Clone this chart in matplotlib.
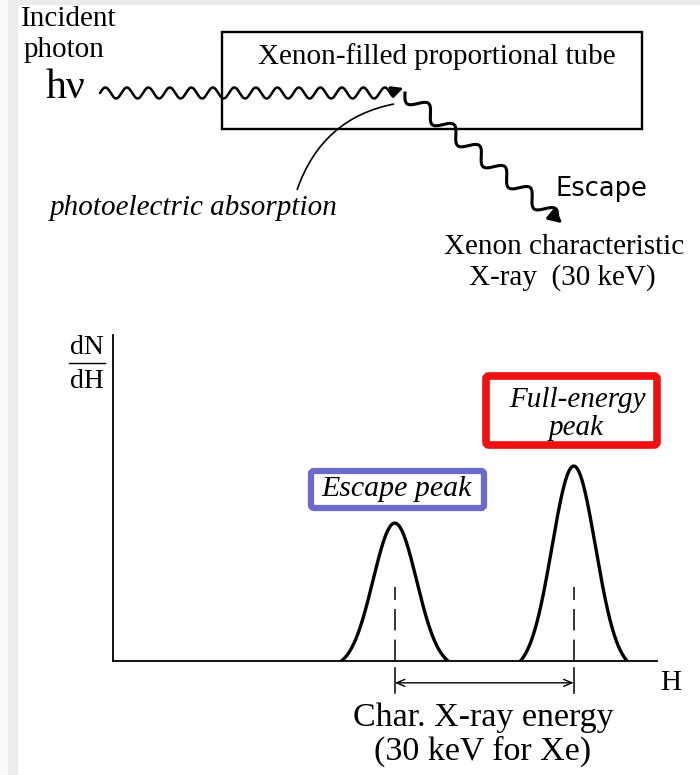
import numpy as np
import matplotlib
matplotlib.use("Agg")
import matplotlib.pyplot as plt
from matplotlib.patches import Rectangle, FancyBboxPatch, PathPatch
from matplotlib.path import Path

# ---- data (lower panel: pulse-height spectrum) ----
peak_names = ["Escape peak", "Full-energy peak"]
peak_centers = [51.8, 84.7]      # H (arbitrary units, axis 0..100)
peak_heights = [0.423, 0.598]    # dN/dH (axis 0..1)
peak_widths = [4.0, 4.0]         # sigma in H units
peak_extent = 2.45               # curve drawn out to +/- extent*sigma

SERIF = ["Liberation Serif", "DejaVu Serif"]
SANS = ["DejaVu Sans"]

W, H = 700, 775
fig = plt.figure(figsize=(W / 100, H / 100), dpi=100)
fig.patch.set_facecolor("white")

# overlay axes in pixel coordinates
ov = fig.add_axes([0, 0, 1, 1])
ov.set_xlim(0, W)
ov.set_ylim(H, 0)
ov.axis("off")

# page frame strips
ov.add_patch(Rectangle((0, 0), 8, H, color="#f9f9f9", lw=0))
ov.add_patch(Rectangle((8, 0), 10, H, color="#ececec", lw=0))
ov.add_patch(Rectangle((8, 0), W, 5, color="#ececec", lw=0))

# ---- top diagram ----
ov.add_patch(Rectangle((222, 32), 420, 97, fill=False, ec="black", lw=1.7))
ov.text(437, 57, "Xenon-filled proportional tube", family=SERIF, fontsize=21,
        ha="center", va="center")

ov.text(21, 19, "Incident", family=SERIF, fontsize=21, ha="left", va="center")
ov.text(24, 50, "photon", family=SERIF, fontsize=21, ha="left", va="center")
ov.text(46, 88, "hν", family=SERIF, fontsize=30, ha="left", va="center")

# incident photon wave
x0, x1, yw = 100, 392, 93
t = np.linspace(0, 1, 800)
xs = x0 + (x1 - x0) * t
ys = yw - 5.5 * np.sin(2 * np.pi * (xs - x0) / 21.5)
ov.plot(xs, ys, color="black", lw=1.8, solid_capstyle="round")
ov.annotate("", xy=(406, 87), xytext=(392, 92),
            arrowprops=dict(arrowstyle="-|>,head_length=0.7,head_width=0.35",
                            color="black", lw=1.8))

# escape x-ray wave
sx, sy, ex, ey = 405, 93, 556, 218
L = np.hypot(ex - sx, ey - sy)
ux, uy = (ex - sx) / L, (ey - sy) / L
nx, ny = -uy, ux
s = np.linspace(0, L, 800)
amp = 7.0 * np.sin(2 * np.pi * s / 33.0)
ov.plot(sx + ux * s + nx * amp, sy + uy * s + ny * amp, color="black", lw=2.2)
ov.annotate("", xy=(ex + 11 * ux, ey + 11 * uy), xytext=(ex - 2 * ux, ey - 2 * uy),
            arrowprops=dict(arrowstyle="-|>,head_length=0.8,head_width=0.4",
                            color="black", lw=2.2))

# photoelectric absorption pointer
verts = [(297, 190), (322, 118), (394, 104)]
ov.add_patch(PathPatch(Path(verts, [Path.MOVETO, Path.CURVE3, Path.CURVE3]),
                       fill=False, ec="black", lw=1.2))
ov.text(194, 208, "photoelectric absorption", family=SERIF, style="italic",
        fontsize=21, ha="center", va="center")

ov.text(556, 189, "Escape", family=SANS, fontsize=18.5, ha="left", va="center")
ov.text(564, 247, "Xenon characteristic", family=SERIF, fontsize=21,
        ha="center", va="center")
ov.text(562, 278, "X-ray  (30 keV)", family=SERIF, fontsize=21,
        ha="center", va="center")

# ---- lower panel ----
left, right, top, bottom = 113, 657, 335, 661
ax = fig.add_axes([left / W, 1 - bottom / H, (right - left) / W, (bottom - top) / H])
ax.set_xlim(0, 100)
ax.set_ylim(0, 1)
ax.patch.set_alpha(0)
for sp in ["top", "right"]:
    ax.spines[sp].set_visible(False)
ax.spines["left"].set_linewidth(1.3)
ax.spines["bottom"].set_linewidth(1.3)
ax.set_xticks([])
ax.set_yticks([])

for c, h, w in zip(peak_centers, peak_heights, peak_widths):
    hx = np.linspace(c - peak_extent * w, c + peak_extent * w, 300)
    g = np.exp(-0.5 * ((hx - c) / w) ** 2)
    g = (g - g[0]) / (1 - g[0])
    ax.plot(hx, h * g, color="black", lw=2.4, solid_joinstyle="round")
    ax.plot([c, c], [0, 0.227], color="black", lw=1.1, dashes=(14, 6))
    ax.plot([c, c], [-0.021, -0.098], color="black", lw=1.1, clip_on=False)

ax.annotate("", xy=(peak_centers[0], -0.067), xytext=(peak_centers[1], -0.067),
            xycoords="data", annotation_clip=False,
            arrowprops=dict(arrowstyle="<->,head_length=0.6,head_width=0.25",
                            color="black", lw=1.0, shrinkA=0, shrinkB=0))

# axis labels
ov.text(87, 347, "dN", family=SERIF, fontsize=20, ha="center", va="center")
ov.plot([69, 105], [363, 363], color="black", lw=1.0)
ov.text(87, 381, "dH", family=SERIF, fontsize=20, ha="center", va="center")
ov.text(671, 683, "H", family=SERIF, fontsize=21, ha="center", va="center")
ov.text(483, 718, "Char. X-ray energy", family=SERIF, fontsize=24.5,
        ha="center", va="center")
ov.text(483, 751, "(30 keV for Xe)", family=SERIF, fontsize=24.5,
        ha="center", va="center")

# peak label boxes
ov.add_patch(FancyBboxPatch((311, 471), 173, 37,
                            boxstyle="round,pad=0,rounding_size=3",
                            fill=False, ec="#6b6bcc", lw=4.5))
ov.text(397, 489, peak_names[0], family=SERIF, style="italic", fontsize=21.5,
        ha="center", va="center")
ov.add_patch(FancyBboxPatch((486, 376), 171, 69,
                            boxstyle="round,pad=0,rounding_size=3",
                            fill=False, ec="#ee1111", lw=5.5))
ov.text(577, 400, "Full-energy", family=SERIF, style="italic", fontsize=21,
        ha="center", va="center")
ov.text(576, 428, "peak", family=SERIF, style="italic", fontsize=21,
        ha="center", va="center")

fig.savefig("out.png", dpi=100)
